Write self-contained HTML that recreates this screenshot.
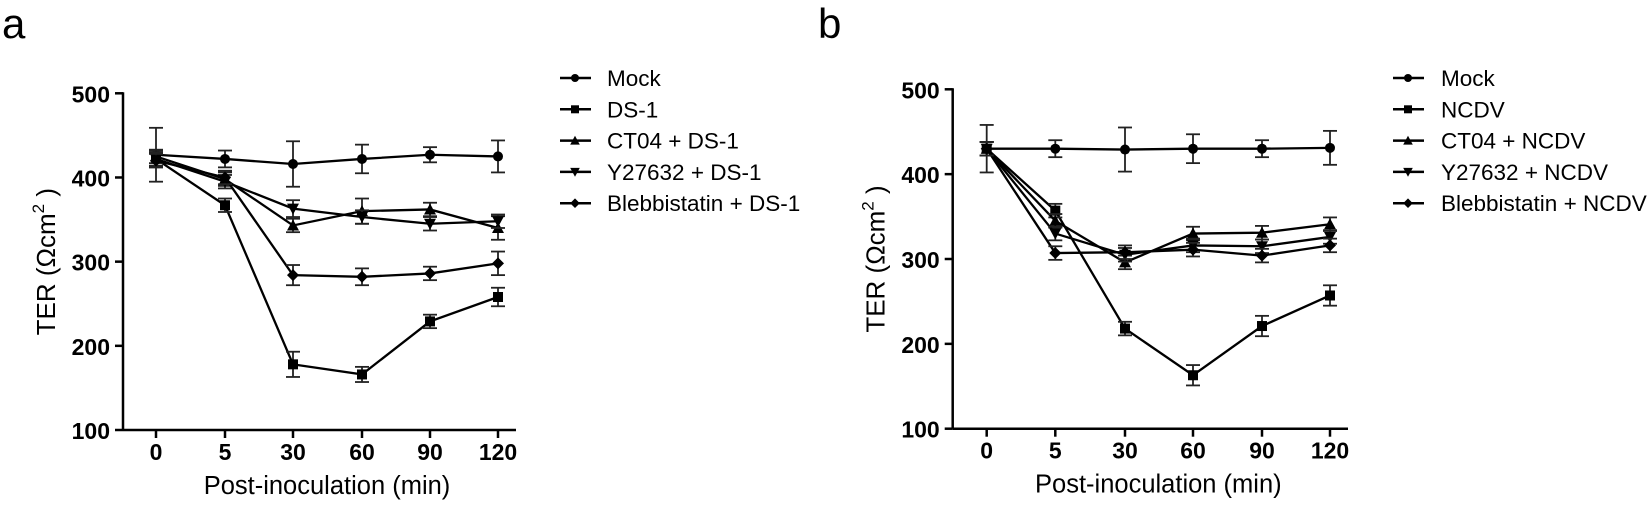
<!DOCTYPE html>
<html><head><meta charset="utf-8"><style>
body{margin:0;background:#fff;}
svg{display:block;font-family:"Liberation Sans",Arial,sans-serif;}
</style></head><body>
<svg id="s" width="1650" height="506" viewBox="0 0 1650 506" xmlns="http://www.w3.org/2000/svg"></svg>
<script>
const s=document.getElementById('s');let h='';
function panel(o){
 const {ax,y500,y100,xs,label,lx,tx,data,names,errs}=o;
 const Y=v=>y500+(500-v)*(y100-y500)/400;
 h+=`<text x="${label[0]}" y="${label[1]}" font-size="42">${label[2]}</text>`;
 h+=`<line x1="${ax}" y1="${y500-1}" x2="${ax}" y2="${y100}" stroke="#000" stroke-width="2.5"/>`;
 h+=`<line x1="${ax}" y1="${y100}" x2="${xs[5]+18}" y2="${y100}" stroke="#000" stroke-width="2.5"/>`;
 [100,200,300,400,500].forEach(v=>{h+=`<line x1="${ax-8}" y1="${Y(v)}" x2="${ax}" y2="${Y(v)}" stroke="#000" stroke-width="2.5"/><text x="${ax-13}" y="${Y(v)+9}" font-size="23" font-weight="bold" text-anchor="end">${v}</text>`;});
 ['0','5','30','60','90','120'].forEach((t,i)=>{h+=`<line x1="${xs[i]}" y1="${y100}" x2="${xs[i]}" y2="${y100+8}" stroke="#000" stroke-width="2.5"/><text x="${xs[i]}" y="${y100+30}" font-size="23" font-weight="bold" text-anchor="middle">${t}</text>`;});
 h+=`<text x="${(xs[0]+xs[5])/2}" y="${y100+64}" font-size="25.5" text-anchor="middle">Post-inoculation (min)</text>`;
 h+=`<text transform="translate(${ax-68},${(y500+y100)/2}) rotate(-90)" font-size="26" text-anchor="middle">TER (Ωcm<tspan dy="-11" font-size="17">2</tspan><tspan dy="11"> )</tspan></text>`;
 const mk=(k,x,y,sz)=>{sz=sz||1;
  if(k==0)return `<circle cx="${x}" cy="${y}" r="${5*sz}"/>`;
  if(k==1)return `<rect x="${x-5*sz}" y="${y-5*sz}" width="${10*sz}" height="${10*sz}"/>`;
  if(k==2)return `<polygon points="${x},${y-6*sz} ${x+6*sz},${y+5*sz} ${x-6*sz},${y+5*sz}"/>`;
  if(k==3)return `<polygon points="${x},${y+6*sz} ${x+6*sz},${y-5*sz} ${x-6*sz},${y-5*sz}"/>`;
  return `<polygon points="${x},${y-6*sz} ${x+6*sz},${y} ${x},${y+6*sz} ${x-6*sz},${y}"/>`;};
 data.forEach((d,k)=>{
  h+=`<polyline fill="none" stroke="#000" stroke-width="2.3" points="${d.map((v,i)=>xs[i]+','+Y(v)).join(' ')}"/>`;
  d.forEach((v,i)=>{const e=errs[k][i];if(e){const a=Y(v-e),b=Y(v+e);h+=`<g stroke="#222" stroke-width="1.8"><line x1="${xs[i]}" y1="${a}" x2="${xs[i]}" y2="${b}"/><line x1="${xs[i]-7}" y1="${a}" x2="${xs[i]+7}" y2="${a}"/><line x1="${xs[i]-7}" y1="${b}" x2="${xs[i]+7}" y2="${b}"/></g>`;}
   h+=mk(k,xs[i],Y(v));});
 });
 names.forEach((n,k)=>{const y=78+k*31.3;
  h+=`<line x1="${lx}" y1="${y}" x2="${lx+31}" y2="${y}" stroke="#000" stroke-width="2.5"/>`+mk(k,lx+15,y,0.8)+`<text x="${tx}" y="${y+8}" font-size="22.5">${n}</text>`;});
}
panel({ax:123,y500:93.3,y100:430,xs:[156,225,293,362,430,498],label:[2,38,'a'],lx:560,tx:607,
 data:[[427,422,416,422,427,425],[422,367,178,166,229,258],[425,398,343,360,362,340],[422,395,363,353,345,348],[420,400,284,282,286,298]],
 errs:[[32,10,27,17,9,19],[10,8,15,9,8,11],[8,8,8,15,8,14],[8,8,10,8,8,8],[8,8,12,10,8,14]],
 names:['Mock','DS-1','CT04 + DS-1','Y27632 + DS-1','Blebbistatin + DS-1']});
panel({ax:952.7,y500:89.3,y100:428.7,xs:[986.7,1055.3,1125,1193,1262,1330],label:[818,38,'b'],lx:1393,tx:1441,
 data:[[430,430,429,430,430,431],[430,357,218,163,221,257],[430,345,296,330,331,341],[430,330,305,316,315,326],[430,307,308,311,304,316]],
 errs:[[28,10,26,17,10,20],[8,8,8,12,12,12],[8,8,8,8,8,8],[8,8,8,8,8,8],[8,8,8,8,8,8]],
 names:['Mock','NCDV','CT04 + NCDV','Y27632 + NCDV','Blebbistatin + NCDV']});
s.innerHTML=h;
</script>
</body></html>
